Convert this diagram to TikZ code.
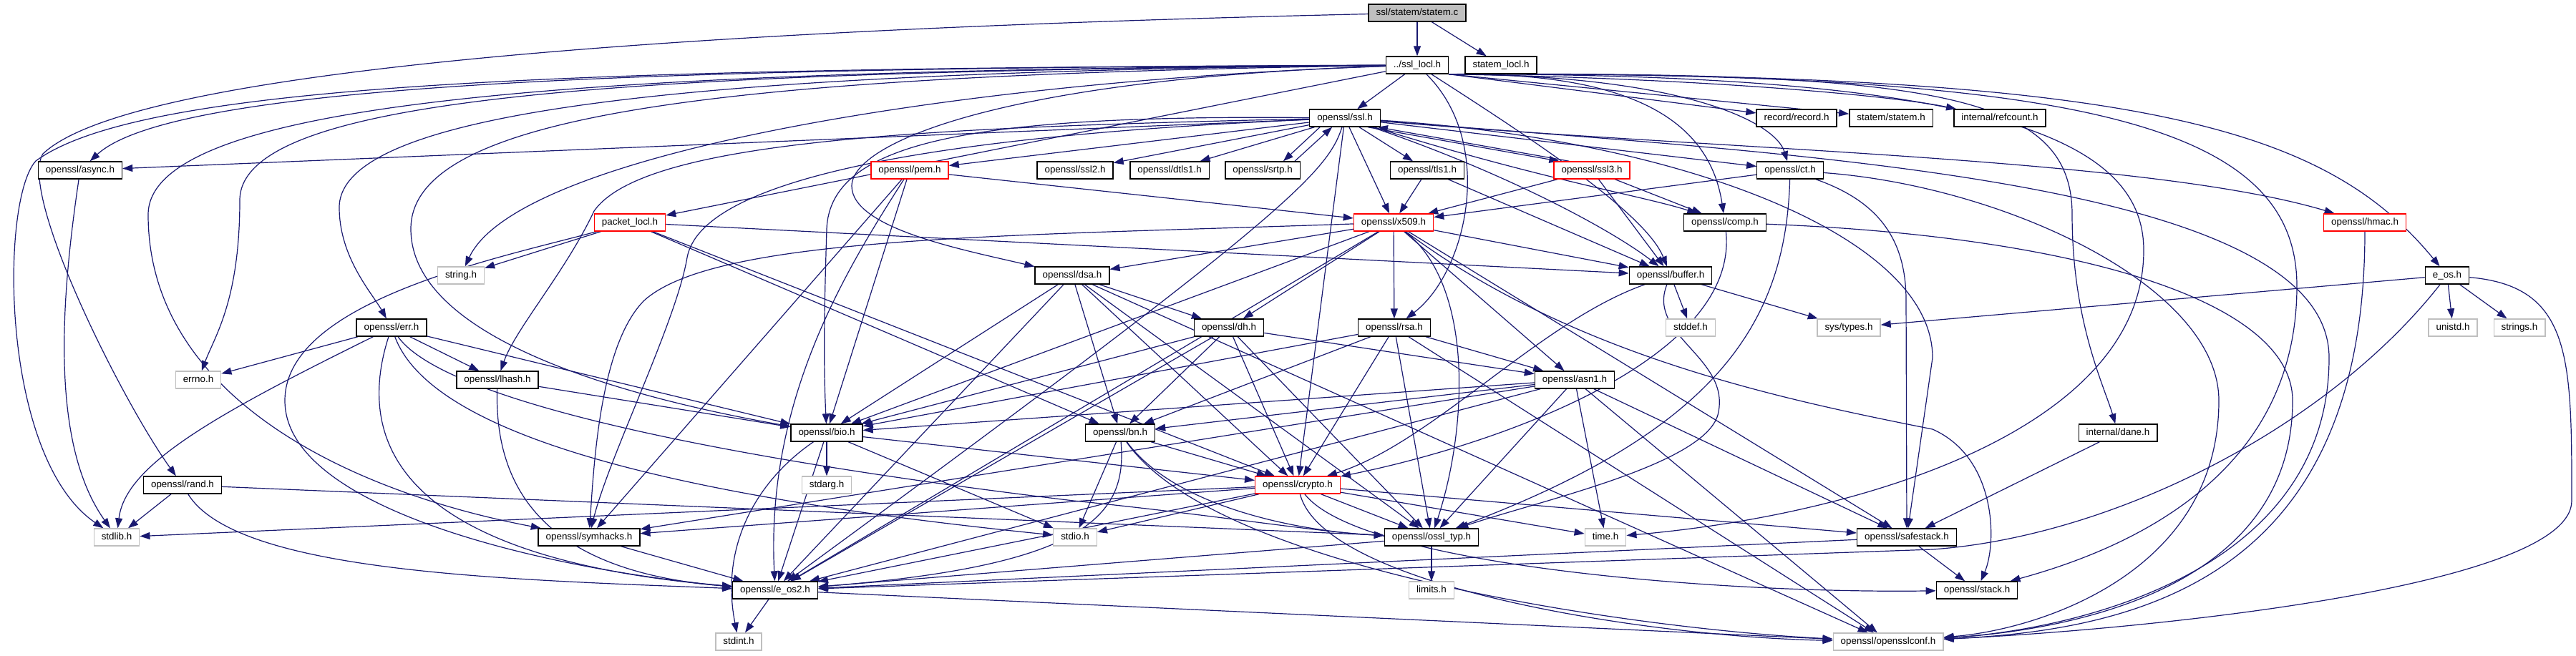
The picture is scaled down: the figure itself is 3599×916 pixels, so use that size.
\documentclass[tikz,border=0pt]{standalone}
\usepackage{fontspec}
\setmainfont{Liberation Sans}
\usetikzlibrary{arrows.meta}
\definecolor{edgeblue}{RGB}{25,25,112}
\definecolor{greyb}{RGB}{191,191,191}
\pgfdeclarelayer{back}
\pgfdeclarelayer{bg}
\pgfsetlayers{back,bg,main}
\begin{document}
\begin{tikzpicture}[x=1pt,y=-1pt,
  box/.style={draw=black,line width=1.4pt,fill=white,font=\fontsize{13.4pt}{16pt}\selectfont,minimum height=24pt,inner xsep=10.5pt,inner ysep=0pt,text height=9.8pt,text depth=2.8pt},
  sys/.style={box,draw=greyb},
  trunc/.style={box,draw=red},
  edg/.style={draw=edgeblue,line width=1.2pt,-{Triangle[length=14pt,width=10pt]}},
]
\begin{pgfonlayer}{back}
\fill[white] (0,0) rectangle (3599,916);
\end{pgfonlayer}
\useasboundingbox (0,0) rectangle (3599,916);

% nodes
\node[box,fill=greyb] (statemc) at (1980,18) {ssl/statem/statem.c};
\node[box] (ssllocl) at (1980,91) {../ssl\_locl.h};
\node[box] (statemlocl) at (2097,91) {statem\_locl.h};
\node[box] (ssl) at (1879,165) {openssl/ssl.h};
\node[box] (record) at (2510,165) {record/record.h};
\node[box] (statemh) at (2642,165) {statem/statem.h};
\node[box] (refcount) at (2794,165) {internal/refcount.h};
\node[box] (async) at (112,238) {openssl/async.h};
\node[trunc] (pem) at (1271,238) {openssl/pem.h};
\node[box] (ssl2) at (1502,238) {openssl/ssl2.h};
\node[box] (dtls1) at (1634,238) {openssl/dtls1.h};
\node[box] (srtp) at (1764,238) {openssl/srtp.h};
\node[box] (tls1) at (1994,238) {openssl/tls1.h};
\node[trunc] (ssl3) at (2224,238) {openssl/ssl3.h};
\node[box] (ct) at (2501,238) {openssl/ct.h};
\node[trunc] (packet) at (880,311) {packet\_locl.h};
\node[trunc] (x509) at (1947,311) {openssl/x509.h};
\node[box] (comp) at (2410,311) {openssl/comp.h};
\node[trunc] (hmac) at (3304,311) {openssl/hmac.h};
\node[sys] (string) at (644,385) {string.h};
\node[box] (dsa) at (1498,385) {openssl/dsa.h};
\node[box] (buffer) at (2334,385) {openssl/buffer.h};
\node[box] (eos) at (3419,385) {e\_os.h};
\node[box] (err) at (547,458) {openssl/err.h};
\node[box] (dh) at (1717,458) {openssl/dh.h};
\node[box] (rsa) at (1948,458) {openssl/rsa.h};
\node[sys] (stddef) at (2362,458) {stddef.h};
\node[sys] (systypes) at (2583,458) {sys/types.h};
\node[sys] (unistd) at (3427,458) {unistd.h};
\node[sys] (strings) at (3520,458) {strings.h};
\node[sys] (errno) at (277,531) {errno.h};
\node[box] (lhash) at (695,531) {openssl/lhash.h};
\node[box] (asn1) at (2200,531) {openssl/asn1.h};
\node[box] (bio) at (1155,605) {openssl/bio.h};
\node[box] (bn) at (1565,605) {openssl/bn.h};
\node[box] (dane) at (2959,605) {internal/dane.h};
\node[box] (rand) at (255,678) {openssl/rand.h};
\node[sys] (stdarg) at (1155,678) {stdarg.h};
\node[trunc] (crypto) at (1813,678) {openssl/crypto.h};
\node[sys] (stdlib) at (163,751) {stdlib.h};
\node[box] (symhacks) at (823,751) {openssl/symhacks.h};
\node[sys] (stdio) at (1502,751) {stdio.h};
\node[box] (ossltyp) at (2000,751) {openssl/ossl\_typ.h};
\node[sys] (time) at (2243,751) {time.h};
\node[box] (safestack) at (2664,751) {openssl/safestack.h};
\node[box] (eos2) at (1083,825) {openssl/e\_os2.h};
\node[sys] (limits) at (2000,825) {limits.h};
\node[box] (stack) at (2762,825) {openssl/stack.h};
\node[sys] (stdint) at (1032,897) {stdint.h};
\node[sys] (opensslconf) at (2638,897) {openssl/opensslconf.h};

\begin{pgfonlayer}{bg}
% statem.c
\draw[edg] (statemc) -- (ssllocl);
\draw[edg] (statemc) -- (statemlocl);
\draw[edg] (statemc) .. controls (800,45) and (170,110) .. (60,215) .. controls (25,270) and (170,560) .. (rand);
% ssl_locl
\draw[edg] (ssllocl) -- (ssl);
\draw[edg] (ssllocl.south east) -- (record);
\draw[edg] (ssllocl.south east) -- (statemh);
\draw[edg] (ssllocl.south east) .. controls (2400,110) and (2650,135) .. (refcount);
\draw[edg] (ssllocl) .. controls (1000,95) and (250,110) .. (async);
\draw[edg] (ssllocl) -- (packet);
\draw[edg] (ssllocl) .. controls (1300,115) and (720,220) .. (string);
\draw[edg] (ssllocl) .. controls (900,100) and (335,130) .. (335,280) .. controls (335,420) and (300,470) .. (errno);
\draw[edg] (ssllocl) .. controls (1000,100) and (474,150) .. (474,290) .. controls (474,360) and (520,410) .. (err);
\draw[edg] (ssllocl) .. controls (800,95) and (200,115) .. (50,225) .. controls (0,280) and (0,640) .. (stdlib);
\draw[edg] (ssllocl) .. controls (900,98) and (207,130) .. (207,300) .. controls (207,560) and (500,690) .. (symhacks);
\draw[edg] (ssllocl) .. controls (1000,105) and (574,160) .. (574,320) .. controls (574,480) and (900,560) .. (bio);
\draw[edg] (ssllocl) .. controls (1400,110) and (1190,200) .. (1190,260) .. controls (1190,320) and (1350,350) .. (dsa);
\draw[edg] (ssllocl) .. controls (2090,200) and (2050,380) .. (rsa);
\draw[edg] (ssllocl) .. controls (2150,200) and (2300,300) .. (buffer);
\draw[edg] (ssllocl.south east) .. controls (2300,100) and (2390,180) .. (comp);
\draw[edg] (ssllocl.south east) .. controls (2350,105) and (2480,170) .. (ct);
\draw[edg] (ssllocl.south east) .. controls (2700,100) and (2895,130) .. (2895,300) .. controls (2895,450) and (2940,540) .. (dane);
\draw[edg] (ssllocl.south east) .. controls (2800,102) and (2995,200) .. (2995,350) .. controls (2995,600) and (2600,720) .. (time);
\draw[edg] (ssllocl.south east) .. controls (2900,100) and (3209,170) .. (3209,400) .. controls (3209,650) and (3000,760) .. (stack);
\draw[edg] (ssllocl.south east) .. controls (3000,100) and (3250,180) .. (eos);
% ssl.h
\draw[edg] (ssl) -- (async);
\draw[edg] (ssl) -- (pem);
\draw[edg] (ssl) -- (ssl2);
\draw[edg] (ssl) -- (dtls1);
\draw[edg] ([xshift=15pt]ssl.south west) -- ([xshift=-24pt]srtp.north east);
\draw[edg] ([xshift=-8pt]srtp.north east) -- ([xshift=32pt]ssl.south west);
\draw[edg] (ssl) -- (tls1);
\draw[edg] ([xshift=-18pt]ssl.south east) -- ([xshift=8pt]ssl3.north west);
\draw[edg] ([xshift=22pt]ssl3.north west) -- ([xshift=-4pt]ssl.south east);
\draw[edg] (ssl) -- (ct);
\draw[edg] (ssl) -- (x509);
\draw[edg] (ssl) .. controls (2400,210) and (3000,220) .. (hmac);
\draw[edg] (ssl) .. controls (2150,250) and (2300,275) .. (comp);
\draw[edg] (ssl) .. controls (2100,240) and (2250,320) .. (buffer);
\draw[edg] (ssl) .. controls (1350,160) and (1160,200) .. (1155,320) .. controls (1152,420) and (1150,500) .. (bio);
\draw[edg] (ssl) -- (crypto);
\draw[edg] (ssl) .. controls (1300,178) and (900,195) .. (830,295) .. controls (790,380) and (720,460) .. (lhash);
\draw[edg] (ssl) .. controls (1300,190) and (980,250) .. (960,360) .. controls (945,450) and (850,640) .. (symhacks);
\draw[edg] (ssl) .. controls (2350,195) and (2700,330) .. (2700,500) -- (safestack);
\draw[edg] (ssl) .. controls (1855,240) and (1800,300) .. (eos2);
\draw[edg] (ssl) .. controls (2500,215) and (3254,250) .. (3254,500) .. controls (3254,800) and (2900,880) .. (opensslconf);
% async
\draw[edg] (async) .. controls (85,420) and (70,620) .. (stdlib);
% pem
\draw[edg] (pem) -- (x509);
\draw[edg] (pem) -- (bio);
\draw[edg] (pem) .. controls (1180,380) and (1070,560) .. (eos2);
\draw[edg] (pem) -- (symhacks);
% tls1, ssl3, ct
\draw[edg] (tls1) -- (buffer);
\draw[edg] (tls1) -- (x509);
\draw[edg] (ssl3) -- (comp);
\draw[edg] (ssl3) -- (buffer);
\draw[edg] (ssl3) -- (x509);
\draw[edg] (ct) -- (x509);
\draw[edg] (ct) .. controls (2620,280) and (2663,330) .. (2663,420) -- (safestack);
\draw[edg] (ct) .. controls (2495,450) and (2400,600) .. (ossltyp);
\draw[edg] (ct) .. controls (2800,260) and (3100,400) .. (3100,560) .. controls (3100,800) and (2850,880) .. (opensslconf);
% packet
\draw[edg] (packet) -- (string);
\draw[edg] (packet) .. controls (700,360) and (398,420) .. (398,560) .. controls (398,720) and (800,800) .. (eos2);
\draw[edg] (packet) -- (buffer);
\draw[edg] (packet) -- (bn);
\draw[edg] (packet) -- (crypto);
% x509
\draw[edg] (x509) -- (dsa);
\draw[edg] (x509) -- (dh);
\draw[edg] (x509) -- (rsa);
\draw[edg] (x509) -- (asn1);
\draw[edg] (x509) -- (buffer);
\draw[edg] (x509) -- (bio);
\draw[edg] (x509) .. controls (1400,330) and (1000,330) .. (900,420) .. controls (840,480) and (830,640) .. (symhacks);
\draw[edg] (x509) -- (eos2);
\draw[edg] (x509) .. controls (2060,400) and (2050,600) .. (ossltyp);
\draw[edg] (x509) -- (safestack);
\draw[edg] (x509) .. controls (2200,500) and (2500,560) .. (2700,600) .. controls (2790,640) and (2790,760) .. (stack);
% comp, hmac
\draw[edg] (comp) .. controls (2430,500) and (2100,620) .. (crypto);
\draw[edg] (comp) .. controls (2900,330) and (3203,420) .. (3203,560) .. controls (3203,820) and (2900,880) .. (opensslconf);
\draw[edg] (hmac) .. controls (3304,800) and (3000,880) .. (opensslconf);
% dsa
\draw[edg] (dsa) -- (bio);
\draw[edg] (dsa) -- (eos2);
\draw[edg] (dsa) -- (bn);
\draw[edg] (dsa) -- (crypto);
\draw[edg] (dsa) -- (dh);
\draw[edg] (dsa) -- (ossltyp);
\draw[edg] (dsa) -- (opensslconf);
% dh
\draw[edg] (dh) -- (bio);
\draw[edg] (dh) -- (eos2);
\draw[edg] (dh) -- (bn);
\draw[edg] (dh) -- (crypto);
\draw[edg] (dh) -- (asn1);
\draw[edg] (dh) -- (ossltyp);
% rsa
\draw[edg] (rsa) -- (asn1);
\draw[edg] (rsa) -- (bio);
\draw[edg] (rsa) -- (crypto);
\draw[edg] (rsa) -- (ossltyp);
\draw[edg] (rsa) -- (bn);
\draw[edg] (rsa) -- (opensslconf);
% asn1
\draw[edg] (asn1) -- (time);
\draw[edg] (asn1) -- (eos2);
\draw[edg] (asn1) -- (opensslconf);
\draw[edg] (asn1) -- (bio);
\draw[edg] (asn1) -- (bn);
\draw[edg] (asn1) -- (symhacks);
\draw[edg] (asn1) -- (ossltyp);
\draw[edg] (asn1) -- (safestack);
% buffer
\draw[edg] (buffer) -- (stddef);
\draw[edg] (buffer) -- (systypes);
\draw[edg] (buffer) .. controls (2150,450) and (2000,620) .. (crypto);
\draw[edg] (buffer) .. controls (2300,470) and (2420,500) .. (2400,580) .. controls (2380,650) and (2150,700) .. (ossltyp);
% e_os
\draw[edg] (eos) -- (systypes);
\draw[edg] (eos) -- (unistd);
\draw[edg] (eos) -- (strings);
\draw[edg] (eos) .. controls (3250,600) and (2950,750) .. (2700,768) -- (eos2);
\draw[edg] (eos) .. controls (3593,400) and (3593,500) .. (3593,700) .. controls (3593,820) and (3000,880) .. (opensslconf);
% err
\draw[edg] (err) -- (errno);
\draw[edg] (err) .. controls (300,580) and (175,650) .. (stdlib);
\draw[edg] (err) .. controls (495,620) and (560,780) .. (eos2);
\draw[edg] (err) .. controls (600,600) and (900,690) .. (stdio);
\draw[edg] (err) .. controls (620,560) and (1000,640) .. (1500,700) .. controls (1700,720) and (1850,745) .. (ossltyp);
\draw[edg] (err) -- (lhash);
\draw[edg] (err) -- (bio);
% lhash
\draw[edg] (lhash) .. controls (690,700) and (780,800) .. (eos2);
\draw[edg] (lhash) -- (bio);
% bio
\draw[edg] (bio) -- (eos2);
\draw[edg] (bio) -- (stdio);
\draw[edg] (bio) -- (stdarg);
\draw[edg] (bio) -- (crypto);
\draw[edg] (bio) .. controls (1060,670) and (1005,760) .. (stdint);
% bn
\draw[edg] (bn) -- (stdio);
\draw[edg] (bn) .. controls (1575,720) and (1520,790) .. (eos2);
\draw[edg] (bn) -- (crypto);
\draw[edg] (bn) .. controls (1650,720) and (1850,745) .. (ossltyp);
\draw[edg] (bn) .. controls (1700,800) and (2300,880) .. (opensslconf);
% dane
\draw[edg] (dane) -- (safestack);
% crypto
\draw[edg] (crypto) -- (stdlib);
\draw[edg] (crypto) -- (time);
\draw[edg] (crypto) -- (eos2);
\draw[edg] (crypto) -- (stdio);
\draw[edg] (crypto) .. controls (1900,790) and (2400,830) .. (stack);
\draw[edg] (crypto) -- (safestack);
\draw[edg] (crypto) -- (ossltyp);
\draw[edg] (crypto) .. controls (1850,820) and (2300,890) .. (opensslconf);
\draw[edg] (crypto) -- (symhacks);
% rand
\draw[edg] (rand) -- (stdlib);
\draw[edg] (rand) .. controls (330,800) and (700,810) .. (eos2);
\draw[edg] (rand) -- (ossltyp);
% lower
\draw[edg] (symhacks) -- (eos2);
\draw[edg] (ossltyp) -- (eos2);
\draw[edg] (ossltyp) -- (limits);
\draw[edg] (safestack) -- (stack);
\draw[edg] (safestack) -- (eos2);
\draw[edg] (eos2) -- (stdint);
\draw[edg] (eos2) -- (opensslconf);
\end{pgfonlayer}
\end{tikzpicture}
\end{document}
